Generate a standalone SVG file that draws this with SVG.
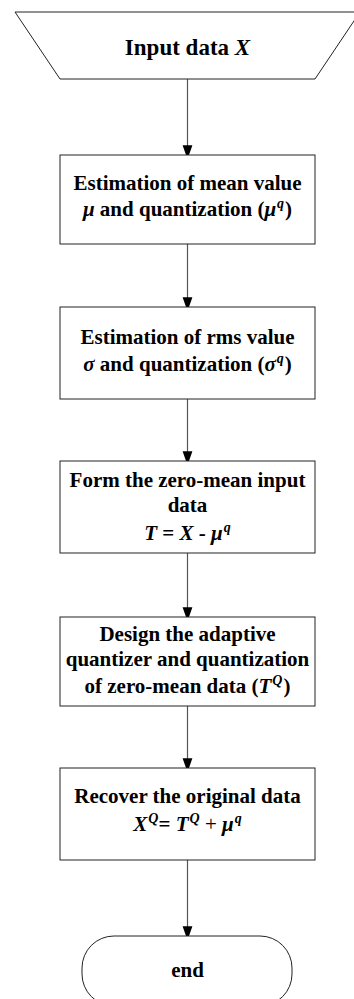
<svg xmlns="http://www.w3.org/2000/svg" width="354" height="999" viewBox="0 0 354 999">
<defs>
<marker id="ah" markerWidth="14" markerHeight="20" refX="14" refY="7" orient="auto" markerUnits="userSpaceOnUse" viewBox="0 0 20 14">
<path d="M0,0 L20,7 L0,14 Z" fill="#000"/>
</marker>
<style>
.shape{fill:#fff;stroke:#222;stroke-width:1}
.t{font-family:"Liberation Serif","Times New Roman",serif;font-weight:bold;font-size:21px;fill:#000;text-anchor:middle}
.big{font-size:23px}
.i{font-style:italic}
.sup{font-style:italic;font-size:14px}
.conn{stroke:#555;stroke-width:1.2;fill:none}
</style>
</defs>
<rect width="354" height="999" fill="#fff"/>
<g id="connectors">
<line class="conn" x1="187.5" y1="79" x2="187.5" y2="155" marker-end="url(#ah)"/>
<line class="conn" x1="187.5" y1="244" x2="187.5" y2="307" marker-end="url(#ah)"/>
<line class="conn" x1="187.5" y1="399" x2="187.5" y2="461" marker-end="url(#ah)"/>
<line class="conn" x1="187.5" y1="553" x2="187.5" y2="617" marker-end="url(#ah)"/>
<line class="conn" x1="187.5" y1="706" x2="187.5" y2="768" marker-end="url(#ah)"/>
<line class="conn" x1="187.5" y1="860" x2="187.5" y2="936" marker-end="url(#ah)"/>
</g>
<g id="input">
<polygon class="shape" points="15,12 360,12 315,79 60,79"/>
<text class="t big" x="187.5" y="55">Input data <tspan class="i">X</tspan></text>
</g>
<g id="mean">
<rect class="shape" x="60" y="155" width="255" height="89"/>
<text class="t" x="187.5" y="190">Estimation of mean value</text>
<text class="t" x="187.5" y="216"><tspan class="i">μ</tspan> and quantization (<tspan class="i">μ</tspan><tspan class="sup" dx="1" dy="-8">q</tspan><tspan dx="1" dy="8">)</tspan></text>
</g>
<g id="rms">
<rect class="shape" x="60" y="307" width="255" height="92"/>
<text class="t" x="187.5" y="344">Estimation of rms value</text>
<text class="t" x="187.5" y="371"><tspan class="i">σ</tspan> and quantization (<tspan class="i">σ</tspan><tspan class="sup" dx="1" dy="-8">q</tspan><tspan dx="1" dy="8">)</tspan></text>
</g>
<g id="zeromean">
<rect class="shape" x="60" y="461" width="255" height="92"/>
<text class="t" x="187.5" y="487">Form the zero-mean input</text>
<text class="t" x="187.5" y="512">data</text>
<text class="t" x="187.5" y="540"><tspan class="i">T</tspan> = <tspan class="i">X</tspan> - <tspan class="i">μ</tspan><tspan class="sup" dx="1" dy="-8">q</tspan></text>
</g>
<g id="quantizer">
<rect class="shape" x="60" y="617" width="255" height="89"/>
<text class="t" x="187.5" y="641">Design the adaptive</text>
<text class="t" x="187.5" y="666">quantizer and quantization</text>
<text class="t" x="187.5" y="693">of zero-mean data (<tspan class="i">T</tspan><tspan class="sup" dx="1" dy="-8">Q</tspan><tspan dx="1" dy="8">)</tspan></text>
</g>
<g id="recover">
<rect class="shape" x="60" y="768" width="255" height="92"/>
<text class="t" x="187.5" y="803">Recover the original data</text>
<text class="t" x="187.5" y="831"><tspan class="i">X</tspan><tspan class="sup" dx="1" dy="-8">Q</tspan><tspan dy="8">= </tspan><tspan class="i">T</tspan><tspan class="sup" dx="1" dy="-8">Q</tspan><tspan dy="8" font-weight="normal"> + </tspan><tspan class="i">μ</tspan><tspan class="sup" dx="1" dy="-8">q</tspan></text>
</g>
<g id="end">
<rect class="shape" x="82" y="936" width="210" height="70" rx="32" ry="32"/>
<text class="t" x="187.5" y="977">end</text>
</g>
</svg>
